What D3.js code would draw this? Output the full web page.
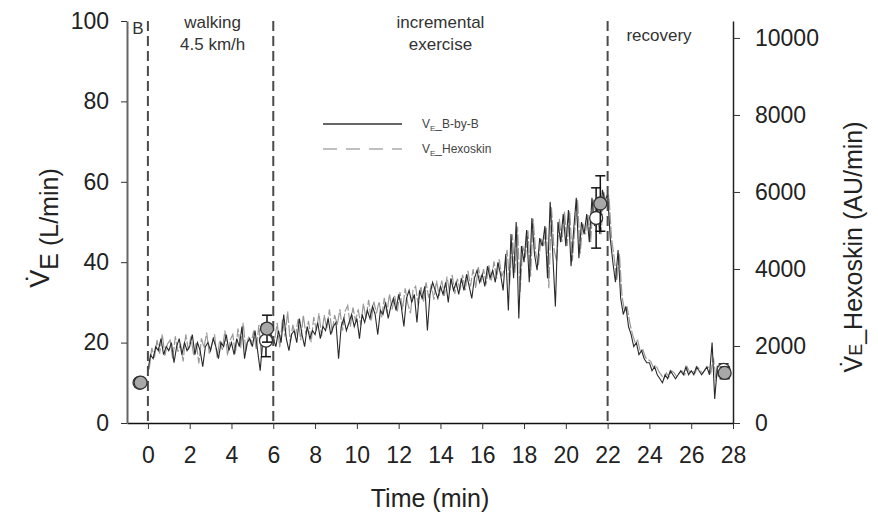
<!DOCTYPE html>
<html><head><meta charset="utf-8">
<script src="https://cdn.jsdelivr.net/npm/d3@7"></script>
<style>body{margin:0;background:#fff}svg{display:block}text{font-family:"Liberation Sans",Arial,sans-serif}</style>
</head><body>
<svg id="c" width="878" height="512"></svg>
<script>
// ---- data ----
const bbbStart = 0;              // min
const hexStart = 0.0625;         // min
const sampleStep = 0.125;        // min between samples
// V_E breath-by-breath (L/min)
const bbbValues = [
 13,17,16,19,18,21,17,19, 18,20,15,19,21,17,20,18, 19,22,17,20,18,14,19,20,
 18,21,19,16,20,19,22,18, 20,17,21,19,24,16,20,21, 19,23,18,13,21,24,20,22,
 21,19,23,20,27,21,18,22, 23,20,26,22,19,24,21,23, 22,25,21,24,23,26,22,24,
 25,16,24,26,23,25,27,24, 26,21,27,25,28,26,29,27, 22,28,27,30,26,29,31,28,
 32,29,24,31,33,30,32,25, 33,31,34,23,32,35,33,31, 34,32,35,30,36,33,35,32,
 36,33,37,34,31,36,38,35, 37,34,39,36,38,35,40,37, 33,42,28,47,36,50,26,44,
 40,48,35,51,42,38,46,44, 49,36,55,42,29,50,45,52, 44,53,39,48,56,41,50,47,
 52,45,56,49,54,47,58,55, 57,46,40,35,43,31,27,29, 24,22,19,20,17,18,16,15,
 15,13,14,12,11,10,12,11, 13,12,11,12,13,12,14,12, 13,12,14,13,12,13,14,12,
 20,6,14,13
];
// V_E Hexoskin (AU/min)
const hexValues = [
 1400,1950,1700,2150,1800,2300,1750,2050, 2150,1650,2250,1850,2050,1600,2300,1900,
 2250,1750,2100,1550,2200,1950,2350,1800, 2050,2300,1700,2150,1900,2400,1750,2150,
 2300,1800,2450,1950,2600,1850,2250,2050, 2400,1900,2550,1700,2600,2100,2450,2250,
 2150,2600,1950,2700,2250,2900,2100,2550, 2250,2700,2150,2800,2300,2650,2100,2750,
 2400,2850,2250,2800,2450,2950,2350,2800, 2550,2950,2400,2900,3050,2500,3000,2650,
 2950,2550,3100,2700,3200,2650,3150,2850, 3150,2750,3250,2850,3350,2950,3300,2900,
 3400,2950,3500,3100,2850,3450,3550,3050, 3550,3150,3650,3250,3600,3200,3700,3300,
 3700,3300,3800,3400,3850,3350,3750,3450, 3850,3450,3950,3550,4000,3500,4050,3650,
 4000,3600,4100,3700,4200,3750,4250,3800, 4000,4500,3600,4900,3900,5100,3400,4600,
 4300,5000,3800,5300,4400,4100,4800,4600, 5100,3500,5600,4500,4200,5300,4700,5500,
 4600,5500,4200,5100,5800,4400,5200,4900, 5400,4700,5800,5100,5600,4900,6000,5700,
 5900,4800,4300,3700,4400,3300,2900,3000, 2600,2300,2100,2150,1850,1900,1700,1650,
 1600,1450,1500,1350,1250,1150,1300,1200, 1350,1300,1200,1300,1350,1250,1450,1300,
 1350,1300,1450,1350,1300,1400,1450,1300, 1700,1100,1450,1350
];
// phase means ± SD
const bbbMeanTimes = [-0.4, 5.65, 21.45, 27.55];
const bbbMeans = [10, 20.5, 51, 13.2];
const bbbSD = [1, 4, 7.5, 1.5];
const hexMeanTimes = [-0.35, 5.7, 21.65, 27.6];
const hexMeans = [1050, 2450, 5700, 1300];
const hexSD = [100, 350, 720, 150];
// phase markers
const phaseBounds = [0, 6, 22];
const xTicks = [0,2,4,6,8,10,12,14,16,18,20,22,24,26,28];
const yLeftTicks = [0,20,40,60,80,100];
const yRightTicks = [0,2000,4000,6000,8000,10000];

// ---- scales ----
const svg = d3.select("#c");
const x = d3.scaleLinear().domain([-1, 28]).range([127, 733]);
const yL = d3.scaleLinear().domain([0, 100]).range([423, 21]);
const yR = d3.scaleLinear().domain([0, 10440]).range([423, 21]);

const bbb = bbbValues.map((v,i)=>({t: bbbStart + i*sampleStep, v}));
const hex = hexValues.map((v,i)=>({t: hexStart + i*sampleStep, v}));

// traces
svg.append("path").datum(hex)
  .attr("fill","none").attr("stroke","#999").attr("stroke-width",1.2)
  .attr("stroke-dasharray","12,2")
  .attr("d", d3.line().x(d=>x(d.t)).y(d=>yR(d.v)));
svg.append("path").datum(bbb)
  .attr("fill","none").attr("stroke","#2a2a2a").attr("stroke-width",1.1)
  .attr("d", d3.line().x(d=>x(d.t)).y(d=>yL(d.v)));

// phase dashed lines
svg.selectAll(".phase").data(phaseBounds).join("line")
  .attr("x1", d=>x(d)).attr("x2", d=>x(d))
  .attr("y1", yL(100)).attr("y2", yL(0))
  .attr("stroke","#4a4a4a").attr("stroke-width",2).attr("stroke-dasharray","10,5");

// axes
const ax = svg.append("g").attr("transform","translate(0,423)")
  .call(d3.axisBottom(x).tickValues(xTicks).tickSize(6).tickSizeOuter(0).tickPadding(18));
ax.select(".domain").attr("stroke","#111").attr("stroke-width",1.5);
const ayl = svg.append("g").attr("transform","translate(127,0)")
  .call(d3.axisLeft(yL).tickValues(yLeftTicks).tickSize(6).tickSizeOuter(0).tickPadding(12));
ayl.select(".domain").attr("stroke","#666").attr("stroke-width",2);
const ayr = svg.append("g").attr("transform","translate(733,0)")
  .call(d3.axisRight(yR).tickValues(yRightTicks).tickFormat(d3.format("d"))
    .tickSize(7).tickSizeOuter(0).tickPadding(15));
ayr.select(".domain").attr("stroke","#222").attr("stroke-width",1.5);
svg.selectAll(".tick text").attr("font-size",23).attr("fill","#222")
  .attr("font-family",'"Liberation Sans",Arial,sans-serif');
svg.selectAll(".tick line").attr("stroke","#333");

// error bars + circles
function meanGroup(times, means, sds, yS, fill){
  const g = svg.append("g");
  const d = times.map((t,i)=>({t, m: means[i], s: sds[i]}));
  g.selectAll("line.v").data(d).join("line")
    .attr("x1",e=>x(e.t)).attr("x2",e=>x(e.t))
    .attr("y1",e=>yS(e.m-e.s)).attr("y2",e=>yS(e.m+e.s))
    .attr("stroke","#111").attr("stroke-width",1.5);
  [-1,1].forEach(sg=>{
    g.selectAll("line.c"+sg).data(d).join("line")
      .attr("x1",e=>x(e.t)-5).attr("x2",e=>x(e.t)+5)
      .attr("y1",e=>yS(e.m+sg*e.s)).attr("y2",e=>yS(e.m+sg*e.s))
      .attr("stroke","#111").attr("stroke-width",1.5);
  });
  g.selectAll("circle").data(d).join("circle")
    .attr("cx",e=>x(e.t)).attr("cy",e=>yS(e.m)).attr("r",6.5)
    .attr("fill",fill).attr("stroke","#333").attr("stroke-width",1.3);
}
meanGroup(bbbMeanTimes, bbbMeans, bbbSD, yL, "#ffffff");
meanGroup(hexMeanTimes, hexMeans, hexSD, yR, "#a8a8a8");

// phase labels
const lab = (txt, xx, yy, size, fam) => svg.append("text").attr("x",xx).attr("y",yy)
  .attr("text-anchor","middle").attr("font-size",size).attr("fill","#333")
  .attr("font-family", fam || '"Liberation Sans",Arial,sans-serif').text(txt);
lab("B", 138, 34, 17, '"Liberation Serif","DejaVu Serif",serif');
lab("walking", x(3.1), 28, 17);
lab("4.5 km/h", x(3.1), 50, 17);
lab("incremental", x(14), 28, 17);
lab("exercise", x(14), 50, 17);
lab("recovery", 659, 41, 17);

// legend
svg.append("line").attr("x1",323).attr("x2",402).attr("y1",124).attr("y2",124)
  .attr("stroke","#333").attr("stroke-width",1.5);
svg.append("line").attr("x1",323).attr("x2",402).attr("y1",149).attr("y2",149)
  .attr("stroke","#aaa").attr("stroke-width",1.5).attr("stroke-dasharray","14,9");
function legText(yy, rest){
  const t = svg.append("text").attr("x",422).attr("y",yy).attr("font-size",12).attr("fill","#444");
  t.append("tspan").text("V");
  t.append("tspan").attr("font-size",8).attr("dy",3).text("E");
  t.append("tspan").attr("dy",-3).text(rest);
}
legText(128, "_B-by-B");
legText(153, "_Hexoskin");

// axis titles
const tl = svg.append("text").attr("transform","translate(58,228) rotate(-90)")
  .attr("text-anchor","middle").attr("font-size",25).attr("fill","#222");
tl.append("tspan").attr("font-size",27).attr("dy",-9).text("V\u0307");
tl.append("tspan").attr("dy",9).text("E");
tl.append("tspan").text(" (L/min)");

const tr = svg.append("text").attr("transform","translate(862,247) rotate(-90)")
  .attr("text-anchor","middle").attr("font-size",25).attr("fill","#222");
tr.append("tspan").attr("font-size",25).text("V\u0307");
tr.append("tspan").attr("font-size",18).text("E");
tr.append("tspan").text("_Hexoskin (AU/min)");

svg.append("text").attr("x",430).attr("y",507).attr("text-anchor","middle")
  .attr("font-size",25).attr("fill","#222").text("Time (min)");
</script>
</body></html>
